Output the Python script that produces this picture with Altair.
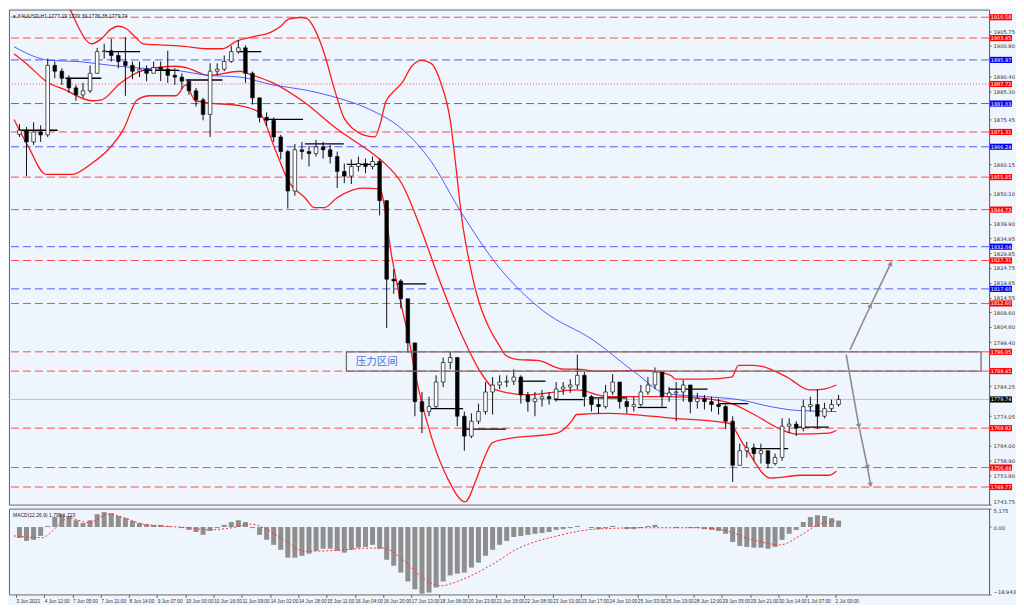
import altair as alt
import pandas as pd

# ---------------- data (XAUUSD H1, each candle = 4 hourly bars) ----------------
BARS = 4
FIRST_OPEN = 1870.5
CLOSE = [1871.9, 1867.9, 1871.3, 1870.3, 1894.1, 1892.1, 1889.7, 1886.4, 1884.0, 1885.4,
         1891.4, 1898.8, 1899.1, 1897.5, 1895.4, 1894.1, 1892.1, 1892.8, 1891.4, 1893.4,
         1892.8, 1890.7, 1890.1, 1888.7, 1885.4, 1882.3, 1877.3, 1892.1, 1892.8, 1895.4,
         1898.8, 1900.1, 1891.4, 1883.0, 1876.3, 1875.3, 1869.6, 1864.6, 1851.1, 1865.2,
         1864.6, 1863.9, 1866.2, 1865.2, 1862.9, 1857.8, 1856.2, 1859.5, 1860.5, 1859.5,
         1861.2, 1847.8, 1820.9, 1820.3, 1814.2, 1799.1, 1779.0, 1775.6, 1777.3, 1785.7,
         1792.4, 1794.1, 1774.0, 1767.2, 1772.3, 1775.6, 1782.3, 1784.7, 1785.7, 1786.0,
         1787.4, 1781.3, 1779.0, 1780.0, 1780.7, 1780.0, 1783.3, 1784.0, 1784.7, 1788.0,
         1780.7, 1778.0, 1777.3, 1782.3, 1785.7, 1779.0, 1777.3, 1778.0, 1782.3, 1784.7,
         1789.1, 1780.7, 1782.0, 1782.3, 1784.7, 1779.0, 1780.0, 1779.0, 1778.0, 1777.3,
         1772.3, 1757.2, 1762.2, 1763.2, 1761.2, 1762.2, 1757.8, 1759.9, 1770.6, 1771.3,
         1769.9, 1777.3, 1778.0, 1774.0, 1776.6, 1778.0, 1779.74]
HIGH = [1874.0, 1873.0, 1874.6, 1873.6, 1896.4, 1895.4, 1893.1, 1890.7, 1887.4, 1888.1,
        1894.1, 1900.1, 1901.5, 1903.2, 1898.8, 1903.8, 1895.4, 1895.4, 1894.1, 1895.4,
        1895.4, 1899.1, 1893.1, 1891.4, 1889.4, 1886.4, 1883.0, 1894.8, 1894.8, 1897.5,
        1900.8, 1902.8, 1901.0, 1892.0, 1883.0, 1878.0, 1876.3, 1870.3, 1865.2, 1867.2,
        1867.9, 1866.6, 1868.6, 1867.9, 1866.9, 1864.6, 1860.5, 1861.9, 1862.9, 1862.2,
        1862.9, 1862.2, 1847.8, 1824.3, 1820.9, 1814.2, 1799.1, 1782.3, 1780.7, 1788.0,
        1794.1, 1796.1, 1794.1, 1775.6, 1775.0, 1778.3, 1785.7, 1787.4, 1788.0, 1788.0,
        1790.1, 1788.0, 1782.3, 1782.3, 1783.0, 1782.3, 1785.7, 1785.7, 1786.7, 1795.1,
        1789.1, 1781.3, 1780.0, 1784.7, 1788.4, 1785.7, 1780.0, 1780.7, 1784.7, 1787.4,
        1790.7, 1789.1, 1784.0, 1785.7, 1786.4, 1784.7, 1782.0, 1781.3, 1780.7, 1780.0,
        1778.0, 1774.0, 1764.6, 1765.2, 1764.6, 1764.6, 1762.2, 1761.2, 1773.3, 1773.3,
        1772.3, 1779.7, 1780.7, 1783.3, 1778.6, 1779.7, 1781.3]
LOW = [1869.6, 1856.2, 1866.9, 1867.9, 1869.6, 1889.7, 1887.4, 1884.7, 1882.0, 1883.0,
       1884.7, 1891.4, 1896.4, 1895.4, 1893.1, 1883.7, 1889.4, 1890.1, 1888.7, 1891.4,
       1888.7, 1888.1, 1887.4, 1886.0, 1884.0, 1880.0, 1875.3, 1869.6, 1890.7, 1892.1,
       1895.0, 1898.1, 1888.1, 1880.7, 1874.6, 1873.3, 1867.9, 1861.9, 1845.1, 1849.5,
       1861.9, 1859.5, 1862.9, 1862.2, 1860.5, 1852.1, 1853.8, 1853.5, 1857.8, 1857.2,
       1858.5, 1842.8, 1804.2, 1815.9, 1810.9, 1795.8, 1774.0, 1768.2, 1774.0, 1776.6,
       1784.0, 1790.1, 1770.6, 1762.2, 1766.5, 1771.3, 1774.6, 1774.6, 1783.3, 1784.0,
       1784.7, 1778.3, 1775.6, 1774.0, 1777.3, 1778.0, 1779.0, 1781.3, 1782.0, 1783.3,
       1777.3, 1775.6, 1775.0, 1776.6, 1781.3, 1776.6, 1775.0, 1775.6, 1777.3, 1781.3,
       1783.3, 1777.3, 1779.0, 1772.3, 1779.0, 1775.0, 1776.6, 1776.3, 1775.6, 1774.6,
       1769.6, 1751.5, 1757.2, 1759.9, 1758.8, 1757.8, 1756.2, 1757.2, 1758.8, 1768.2,
       1767.2, 1768.9, 1775.6, 1769.6, 1773.3, 1775.6, 1777.3]

# MACD histogram per candle, signal line points (bar index, value)
MACD = [-3.1, -3.9, -3.6, -2.5, 0.3, 2.8, 3.6, 3.1, 1.9, 1.1,
        1.9, 3.6, 4.2, 3.9, 3.1, 2.5, 1.7, 1.1, 0.8, 0.6,
        0.6, 0.3, 0.0, -0.3, -0.8, -1.4, -2.2, -1.1, -0.3, 0.6,
        1.4, 1.9, 1.4, -0.3, -2.2, -3.6, -5.0, -6.4, -8.6, -8.6,
        -8.1, -7.5, -6.7, -6.1, -6.1, -6.7, -7.2, -6.4, -5.8, -5.6,
        -5.0, -6.1, -9.2, -10.9, -12.8, -15.3, -17.5, -18.7, -18.4, -17.0,
        -15.3, -13.6, -13.1, -12.8, -11.4, -10.0, -8.1, -6.4, -5.0, -3.9,
        -2.8, -2.5, -2.2, -1.9, -1.7, -1.4, -0.8, -0.6, -0.3, 0.3,
        0.0, -0.3, -0.6, -0.3, 0.3, 0.0, -0.6, -0.6, -0.3, 0.3,
        0.6, 0.0, 0.0, -0.3, 0.0, -0.3, -0.3, -0.6, -0.8, -1.1,
        -1.9, -4.2, -5.3, -5.6, -5.8, -5.8, -6.1, -5.6, -3.6, -1.9,
        -0.8, 1.4, 2.8, 3.3, 3.1, 2.5, 1.8]
SIG_X = [-1.1, 15.4, 19.2, 30.2, 41.2, 52.2, 63.2, 72.0, 99.5, 108.8, 122.5, 133.5, 141.8,
         152.7, 163.7, 180.2, 196.7, 207.7, 218.7, 229.7, 240.7, 251.6, 268.1, 284.6, 306.6,
         328.6, 356.0, 383.5, 400.0, 416.5, 433.0, 444.0, 455.0, 464.8]
SIG_V = [-2.5, -3.0, -1.7, 2.5, 1.2, 3.6, 2.3, 0.8, -0.3, -0.8, -0.2, 0.8, -0.6,
         -4.0, -6.8, -6.6, -6.0, -5.9, -9.0, -14.0, -16.5, -15.0, -11.0, -6.0, -2.5,
         -0.6, -0.2, -0.2, -0.8, -3.5, -5.0, -2.5, 0.8, 1.72]

# Bollinger bands and moving average (bar index, price)
UPPER_X = [26.4, 30.8, 34.6, 40.1, 42.9, 48.4, 53.8, 57.7, 62.1, 67.6, 72.0, 81.3, 92.3, 108.8,
           117.0, 125.3, 133.5, 144.5, 150.0, 154.4, 161.0, 164.8, 169.2, 174.7, 180.2, 185.7,
           191.2, 196.7, 203.3, 206.6, 209.3, 213.2, 218.7, 224.2, 229.7, 235.2, 240.7, 246.2,
           248.9, 252.7, 257.1, 262.6, 268.1, 273.6, 277.5, 284.6, 295.6, 310.4, 317.6, 328.6,
           356.0, 370.9, 373.6, 390.7, 405.5, 409.3, 418.1, 436.8, 449.5, 457.7, 464.8]
UPPER_P = [1919.9, 1913.2, 1908.2, 1902.5, 1901.5, 1903.2, 1906.5, 1907.5, 1906.8, 1903.8,
           1901.5, 1901.1, 1900.8, 1899.8, 1899.8, 1902.5, 1903.8, 1905.5, 1907.5, 1909.9,
           1910.5, 1910.2, 1906.5, 1898.1, 1886.4, 1876.3, 1872.3, 1870.3, 1869.6, 1874.6,
           1881.3, 1884.7, 1888.1, 1893.8, 1895.8, 1894.8, 1888.1, 1874.6, 1861.2, 1841.1,
           1826.0, 1812.5, 1804.2, 1798.4, 1794.8, 1793.4, 1793.1, 1790.1, 1790.1, 1789.4,
           1789.7, 1788.0, 1786.7, 1786.7, 1787.4, 1791.4, 1791.4, 1787.4, 1783.0, 1783.3, 1784.7]
MID_X = [-1.1, 7.1, 17.0, 28.0, 42.9, 48.4, 59.3, 72.0, 90.7, 97.8, 108.8, 126.9, 130.8, 145.6,
         163.7, 181.9, 200.5, 207.7, 218.7, 229.7, 240.7, 253.3, 262.6, 272.0, 290.1, 317.6,
         335.7, 368.7, 390.7, 405.5, 418.1, 433.0, 442.3, 460.4, 464.8]
MID_P = [1898.1, 1894.1, 1888.7, 1885.7, 1882.0, 1882.3, 1888.1, 1892.4, 1893.8, 1893.1,
         1890.7, 1892.1, 1891.4, 1888.1, 1881.3, 1872.3, 1864.6, 1861.2, 1853.5, 1837.7,
         1819.3, 1800.8, 1789.7, 1783.0, 1781.3, 1783.0, 1780.7, 1780.7, 1780.0, 1778.3,
         1774.6, 1769.6, 1767.9, 1768.2, 1769.2]
LOW_X = [-1.1, 7.1, 17.0, 31.9, 42.9, 52.2, 61.0, 68.7, 75.8, 90.7, 96.2, 101.6, 108.8, 126.9,
         137.9, 147.3, 154.4, 163.7, 169.2, 174.7, 181.9, 196.7, 206.0, 213.2, 218.7, 222.5,
         225.8, 235.2, 244.5, 254.4, 261.0, 265.4, 269.8, 277.5, 306.6, 314.8, 317.6, 335.7,
         372.5, 403.8, 412.6, 427.5, 445.6, 460.4, 464.8]
LOW_P = [1875.6, 1866.2, 1856.8, 1856.8, 1860.5, 1865.2, 1872.3, 1882.3, 1883.7, 1883.7,
         1887.4, 1882.0, 1881.3, 1880.3, 1878.0, 1864.6, 1854.5, 1848.8, 1845.4, 1845.4,
         1848.8, 1852.1, 1851.8, 1827.6, 1810.9, 1800.8, 1789.7, 1767.2, 1752.8, 1744.7,
         1752.8, 1759.9, 1764.9, 1766.2, 1768.2, 1772.3, 1774.6, 1775.0, 1773.3, 1771.6,
         1763.9, 1752.8, 1753.8, 1753.8, 1755.2]
MA_X = [-1.1, 19.2, 35.7, 53.8, 72.0, 90.7, 108.8, 126.9, 145.6, 163.7, 181.9, 200.5, 218.7,
        235.2, 251.6, 273.6, 298.4, 326.9, 350.5, 368.7, 390.7, 409.3, 427.5, 442.3, 464.8]
MA_P = [1900.5, 1895.8, 1895.4, 1894.1, 1893.1, 1892.4, 1890.7, 1890.1, 1887.4, 1885.7,
        1883.0, 1879.0, 1872.3, 1861.2, 1844.4, 1825.0, 1810.2, 1800.1, 1789.1, 1781.7,
        1780.7, 1779.7, 1777.3, 1776.0, 1775.6]

# daily open segments
SEG_X1 = [1.6, 28.0, 51.1, 72.0, 96.2, 125.3, 140.7, 163.7, 187.4, 215.9, 233.5, 254.4,
          284.6, 304.9, 324.7, 352.2, 369.8, 398.4, 416.5, 442.3]
SEG_X2 = [23.6, 48.4, 70.3, 92.3, 117.0, 139.0, 162.6, 185.7, 206.6, 232.4, 253.3, 277.5,
          300.0, 321.4, 346.2, 368.7, 391.8, 414.8, 437.4, 460.4]
SEG_P = [1871.9, 1889.7, 1898.8, 1892.4, 1889.1, 1898.8, 1875.6, 1867.2, 1860.2, 1819.3,
         1776.6, 1769.6, 1786.0, 1779.7, 1780.3, 1777.0, 1783.3, 1778.3, 1762.9, 1770.3]

# horizontal levels
RED_LEVELS = [1910.58, 1903.45, 1871.31, 1855.85, 1844.73, 1827.31, 1812.60,
              1796.05, 1789.45, 1769.92, 1756.44, 1749.77]
RED_DOTTED = [1887.72]
BLUE_LEVELS = [1895.97, 1881.03, 1866.24, 1832.04, 1817.60]
CURRENT = 1779.74

# resistance zone and arrows
ZONE = dict(x1=187.2, x2=546.7, p1=1789.45, p2=1796.05)
ZONE_TEXT = "压力区间"
ZONE_TEXT_POS = (204.4, 1792.7)
UP_X = [472.5, 484.1, 495.6]
UP_P = [1796.8, 1811.9, 1826.3]
DN_X = [470.3, 477.5, 482.4, 484.1]
DN_P = [1795.1, 1770.6, 1756.5, 1750.5]

Y_TICKS = [1905.75, 1900.80, 1890.40, 1885.30, 1875.45, 1860.15, 1850.10, 1839.90,
           1834.95, 1829.85, 1824.75, 1819.65, 1814.55, 1809.60, 1804.60, 1799.40,
           1784.25, 1774.05, 1764.00, 1758.90, 1753.80, 1743.75]
X_LABELS = ["3 Jun 2021", "4 Jun 12:00", "7 Jun 05:00", "7 Jun 21:00", "8 Jun 14:00",
            "9 Jun 07:00", "10 Jun 00:00", "10 Jun 16:00", "11 Jun 09:00", "14 Jun 02:00",
            "14 Jun 18:00", "15 Jun 11:00", "16 Jun 04:00", "16 Jun 20:00", "17 Jun 13:00",
            "18 Jun 06:00", "20 Jun 23:00", "21 Jun 15:00", "22 Jun 08:00", "23 Jun 01:00",
            "23 Jun 17:00", "24 Jun 10:00", "25 Jun 03:00", "25 Jun 19:00", "28 Jun 12:00",
            "29 Jun 05:00", "29 Jun 21:00", "30 Jun 14:00", "1 Jul 07:00", "2 Jul 00:00"]
LABEL_STEP = 16
HEADER = "▾ XAUUSD,H1  1777.19 1779.39 1776.38 1779.74"
MACD_TITLE = "MACD(12,26,9) 1.799 1.723"

# ---------------- chart ----------------
W, H_MAIN, H_MACD = 982, 496, 86
BG = "#eef5fc"
FONT = "DejaVu Sans"
FONT_N = "Liberation Sans"

xs = alt.Scale(domain=[-1.1, 548.4], nice=False, zero=False)
ys = alt.Scale(domain=[1743.75, 1913.2], nice=False, zero=False)
yax = alt.Axis(orient="right", values=Y_TICKS, format=".2f", title=None, grid=False,
               labelFontSize=5.2, labelFont=FONT, labelColor="#333", tickSize=2,
               tickColor="#666", domainColor="#666", labelPadding=2,
               labelOverlap=False, labelFlush=True)


def xq(f):
    return alt.X(f, type="quantitative", scale=xs, axis=None)


def yq(f):
    return alt.Y(f, type="quantitative", scale=ys, axis=yax)


opens = [FIRST_OPEN] + CLOSE[:-1]
idx = [BARS * k + BARS / 2 for k in range(len(CLOSE))]
cdf = pd.DataFrame({"idx": idx, "open": opens, "high": HIGH, "low": LOW, "close": CLOSE})
cdf["fillc"] = ["#ffffff" if c >= o else "#000000" for o, c in zip(opens, CLOSE)]

red_rules = alt.Chart(pd.DataFrame({"price": RED_LEVELS})).mark_rule(
    color="#ff4a4a", strokeDash=[8, 4], strokeWidth=1).encode(y=yq("price"))
red_dot = alt.Chart(pd.DataFrame({"price": RED_DOTTED})).mark_rule(
    color="#ff4a4a", strokeDash=[1, 2], strokeWidth=1).encode(y=yq("price"))
blue_rules = alt.Chart(pd.DataFrame({"price": BLUE_LEVELS})).mark_rule(
    color="#4f5cff", strokeDash=[8, 4], strokeWidth=1).encode(y=yq("price"))
cur_rule = alt.Chart(pd.DataFrame({"price": [CURRENT]})).mark_rule(
    color="#c4c4c4", strokeWidth=1).encode(y=yq("price"))

segs = alt.Chart(pd.DataFrame({"x1": SEG_X1, "x2": SEG_X2, "price": SEG_P})).mark_rule(
    color="#000000", strokeWidth=1.3).encode(x=xq("x1"), x2="x2", y=yq("price"))

bdf = pd.concat([
    pd.DataFrame({"idx": UPPER_X, "price": UPPER_P, "band": "upper"}),
    pd.DataFrame({"idx": MID_X, "price": MID_P, "band": "middle"}),
    pd.DataFrame({"idx": LOW_X, "price": LOW_P, "band": "lower"}),
])
bands = alt.Chart(bdf).mark_line(color="#ff1a1a", strokeWidth=1.3, clip=True,
                                 interpolate="monotone").encode(
    x=xq("idx"), y=yq("price"), detail="band:N")
ma = alt.Chart(pd.DataFrame({"idx": MA_X, "price": MA_P})).mark_line(
    color="#3a4cff", strokeWidth=0.9, interpolate="monotone").encode(x=xq("idx"), y=yq("price"))

wick = alt.Chart(cdf).mark_rule(color="#111111", strokeWidth=1).encode(
    x=xq("idx"), y=yq("low"), y2="high")
body = alt.Chart(cdf).mark_bar(width=3.6, stroke="#111111", strokeWidth=0.7).encode(
    x=xq("idx"), y=yq("open"), y2="close", fill=alt.Fill("fillc:N", scale=None))

zone = alt.Chart(pd.DataFrame([ZONE])).mark_rect(
    fill="transparent", stroke="#707070", strokeWidth=1.3).encode(
    x=xq("x1"), x2="x2", y=yq("p1"), y2="p2")
zone_txt = alt.Chart(pd.DataFrame({"idx": [ZONE_TEXT_POS[0]], "price": [ZONE_TEXT_POS[1]],
                                   "t": [ZONE_TEXT]})).mark_text(
    font="Noto Sans CJK SC", fontSize=10.5, color="#4a6fdc").encode(
    x=xq("idx"), y=yq("price"), text="t:N")

up_line = alt.Chart(pd.DataFrame({"idx": UP_X, "price": UP_P, "o": range(len(UP_X))})).mark_line(
    color="#8c8c8c", strokeWidth=1.6).encode(x=xq("idx"), y=yq("price"), order="o:Q")
dn_line = alt.Chart(pd.DataFrame({"idx": DN_X, "price": DN_P, "o": range(len(DN_X))})).mark_line(
    color="#8c8c8c", strokeWidth=1.6).encode(x=xq("idx"), y=yq("price"), order="o:Q")
up_head = alt.Chart(pd.DataFrame({"idx": UP_X[1:], "price": UP_P[1:]})).mark_point(
    shape="triangle-up", filled=True, color="#8c8c8c", size=30, angle=25, opacity=1).encode(
    x=xq("idx"), y=yq("price"))
dn_head = alt.Chart(pd.DataFrame({"idx": DN_X[1:], "price": DN_P[1:]})).mark_point(
    shape="triangle-up", filled=True, color="#8c8c8c", size=30, angle=170, opacity=1).encode(
    x=xq("idx"), y=yq("price"))

lab_p = RED_LEVELS + RED_DOTTED + BLUE_LEVELS + [CURRENT]
lab_c = (["#ff0000"] * (len(RED_LEVELS) + len(RED_DOTTED)) + ["#0000f0"] * len(BLUE_LEVELS)
         + ["#000000"])
ldf = pd.DataFrame({"price": lab_p, "col": lab_c, "txt": [f"{p:.2f}" for p in lab_p]})
lbox = alt.Chart(ldf).mark_point(shape="M-1,-0.28H1V0.28H-1Z", filled=True, size=484,
                                 opacity=1, strokeWidth=0).encode(
    x=alt.value(W + 12), y=yq("price"), fill=alt.Fill("col:N", scale=None))
ltxt = alt.Chart(ldf).mark_text(color="#ffffff", fontSize=5, font=FONT).encode(
    x=alt.value(W + 12), y=yq("price"), text="txt:N")

hdr = alt.Chart(pd.DataFrame({"t": [HEADER]})).mark_text(
    align="left", baseline="middle", fontSize=5.2, color="#222222", font=FONT_N).encode(
    x=alt.value(4), y=alt.value(6), text="t:N")

main = alt.layer(red_rules, red_dot, blue_rules, cur_rule, bands, ma, segs, wick, body,
                 zone, zone_txt, up_line, dn_line, up_head, dn_head, lbox, ltxt, hdr
                 ).properties(width=W, height=H_MAIN)

# MACD panel
label_arr = "[" + ",".join("'" + s + "'" for s in X_LABELS) + "]"
xax = alt.Axis(values=[LABEL_STEP * i for i in range(len(X_LABELS))],
               labelExpr=label_arr + "[round(datum.value/" + str(LABEL_STEP) + ")]",
               labelAlign="left", labelFontSize=4.8, labelFont=FONT_N, labelColor="#333",
               tickSize=3, tickColor="#666", domain=False, grid=False, title=None,
               labelPadding=1, labelOverlap=False, labelFlush=False)
mys = alt.Scale(domain=[-18.943, 5.175], nice=False, zero=False)
myax = alt.Axis(orient="right", values=[5.175, 0, -18.943],
                labelExpr="datum.value == 0 ? '0.00' : format(datum.value, '.3f')",
                title=None, grid=False, labelFontSize=5.2, labelFont=FONT, labelColor="#333",
                tickSize=2, tickColor="#666", domainColor="#666", labelPadding=2,
                labelOverlap=False, labelFlush=True)
mdf = pd.DataFrame({"idx": idx, "macd": MACD})
hist = alt.Chart(mdf).mark_bar(width=5, color="#8f8f8f").encode(
    x=alt.X("idx:Q", scale=xs, axis=xax), y=alt.Y("macd:Q", scale=mys, axis=myax),
    y2=alt.datum(0))
sig = alt.Chart(pd.DataFrame({"idx": SIG_X, "v": SIG_V})).mark_line(
    color="#ff3030", strokeDash=[2, 2], strokeWidth=1, interpolate="monotone").encode(
    x=alt.X("idx:Q", scale=xs, axis=xax), y=alt.Y("v:Q", scale=mys, axis=myax))
mtitle = alt.Chart(pd.DataFrame({"t": [MACD_TITLE]})).mark_text(
    align="left", baseline="middle", fontSize=5, color="#222222", font=FONT_N).encode(
    x=alt.value(4), y=alt.value(6), text="t:N")
macd = alt.layer(hist, sig, mtitle).properties(width=W, height=H_MACD)

chart = alt.vconcat(main, macd, spacing=2).properties(
    padding=0, background=BG).configure_view(stroke="#6a6a6a", strokeWidth=1, fill=BG)

chart.save("out.html", embed_options={"renderer": "svg", "actions": False})
